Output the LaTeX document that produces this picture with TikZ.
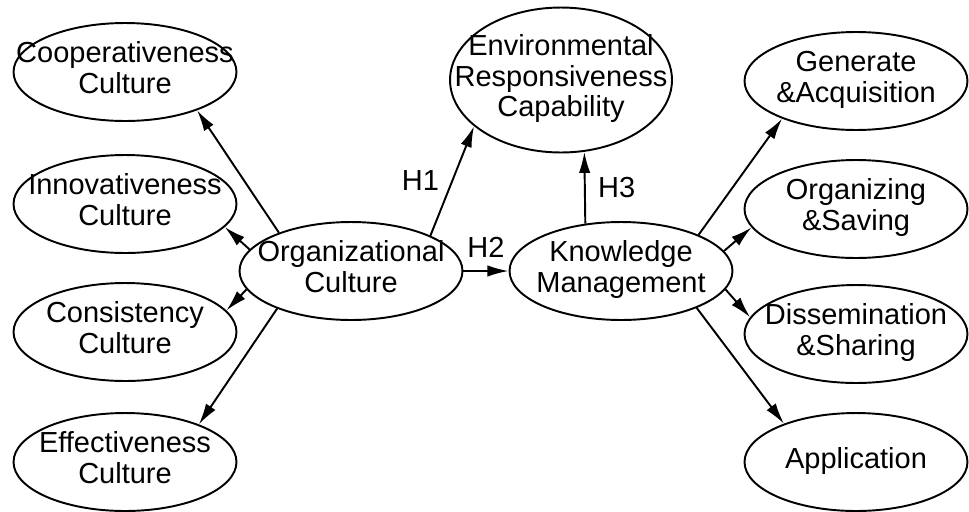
\documentclass[tikz,border=0pt]{standalone}
\usepackage{fontspec}
\setmainfont{Liberation Sans}
\usetikzlibrary{shapes.geometric,arrows.meta}
% text that does not widen the ellipse
\newcommand{\ctext}[1]{\makebox[0pt]{\begin{tabular}{@{}c@{}}#1\end{tabular}}}

\begin{document}
\begin{tikzpicture}[x=0.02cm, y=-0.02cm,
		node_style/.style={ellipse,draw=black,line width=1.1pt,inner sep=0pt,
			minimum width=4.46cm,minimum height=1.96cm,font=\fontsize{16.5}{17.5}\selectfont},
		label_style/.style={inner sep=1pt,font=\fontsize{16.5}{17.5}\selectfont},
		edge_style/.style={draw=black,line width=1.1pt,-{Latex[length=12pt,width=6.5pt]}}]

		\useasboundingbox (0,0) rectangle (969,511);

		\node[node_style] (coop) at (125,72)  {\ctext{Cooperativeness\\Culture}};
		\node[node_style] (innov) at (125,204)  {\ctext{Innovativeness\\Culture}};
		\node[node_style] (cons) at (125,332)  {\ctext{Consistency\\Culture}};
		\node[node_style] (effe) at (125,462)  {\ctext{Effectiveness\\Culture}};
		\node[node_style] (oc) at (351,271)  {\ctext{Organizational\\Culture}};
		\node[node_style,minimum width=4.44cm,minimum height=2.9cm] (env) at (561,80)  {\ctext{Environmental\\Responsiveness\\Capability}};
		\node[node_style] (km) at (621,271)  {\ctext{Knowledge\\Management}};
		\node[node_style] (gen) at (856,81)  {\ctext{Generate\\\&Acquisition}};
		\node[node_style] (org) at (856,209)  {\ctext{Organizing\\\&Saving}};
		\node[node_style] (diss) at (856,334)  {\ctext{Dissemination\\\&Sharing}};
		\node[node_style] (app) at (856,462)  {\ctext{Application}};

		\draw (oc.152) edge[edge_style] (coop.332);
		\draw (oc.168) edge[edge_style] (innov.347);
		\draw (oc.190) edge[edge_style] (cons.12);
		\draw (oc.207) edge[edge_style] (effe.27);
		\draw (oc.24) edge[edge_style] node[label_style,left=6pt]{H1} (env.208);
		\draw (oc.east) edge[edge_style] node[label_style,above=6pt]{H2} (km.west);
		\draw (km.127) edge[edge_style] node[label_style,right=6pt]{H3} (env.288);
		\draw (km.25) edge[edge_style] (gen.207);
		\draw (km.11) edge[edge_style] (org.190);
		\draw (km.350) edge[edge_style] (diss.171);
		\draw (km.334) edge[edge_style] (app.152);

		\end{tikzpicture}
\end{document}
